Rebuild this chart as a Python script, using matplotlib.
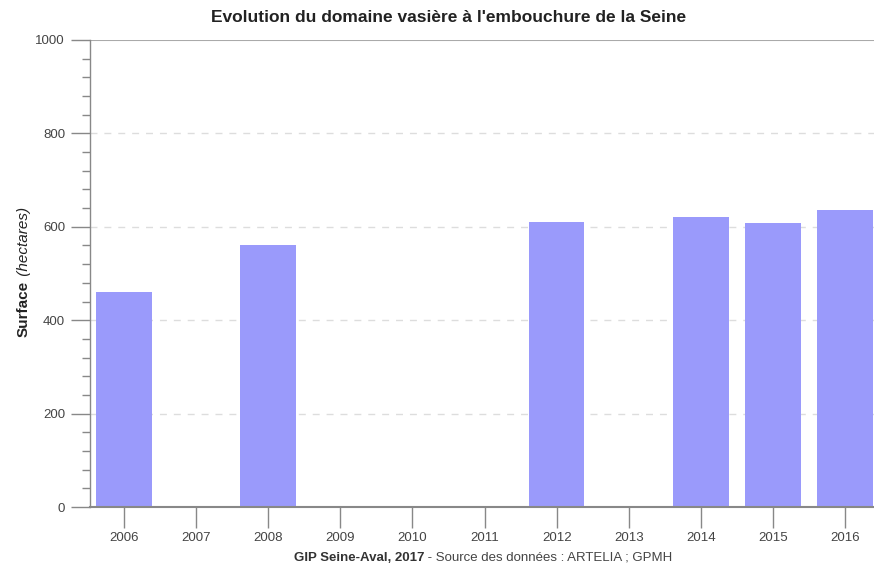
import matplotlib
matplotlib.use("Agg")
import matplotlib.pyplot as plt
from matplotlib.ticker import MultipleLocator

years = ["2006", "2007", "2008", "2009", "2010", "2011", "2012", "2013", "2014", "2015", "2016"]
surface = [460, 0, 560, 0, 0, 0, 610, 0, 620, 608, 635]
title = "Evolution du domaine vasière à l'embouchure de la Seine"
ylabel_bold = "Surface"
ylabel_ital = " (hectares)"
footer_bold = "GIP Seine-Aval, 2017"
footer_rest = " - Source des données : ARTELIA ; GPMH"

plt.rcParams['font.family'] = ['Liberation Sans', 'DejaVu Sans']

W, H = 874, 567
fig = plt.figure(figsize=(W / 100, H / 100), dpi=100)
ax = fig.add_axes([90 / W, 1 - 507 / H, 1 - 90 / W, (507 - 40) / H])

x = list(range(len(years)))
ax.bar(x, surface, width=0.77, color="#9a9afb", zorder=2)

ax.set_xlim(-0.47, 10.40)
ax.set_ylim(0, 1000)
ax.set_xticks(x)
ax.set_xticklabels(years)
ax.yaxis.set_major_locator(MultipleLocator(200))
ax.yaxis.set_minor_locator(MultipleLocator(40))

for v in [200, 400, 600, 800]:
    ax.axhline(v, color="#dddddd", lw=1, ls=(0, (5, 5)), zorder=1)
ax.axhline(1000, color="#aaaaaa", lw=1.5, zorder=1)

for s in ["top", "right"]:
    ax.spines[s].set_visible(False)
ax.spines["left"].set_color("#888888")
ax.spines["bottom"].set_color("#888888")
ax.spines["left"].set_linewidth(1)
ax.spines["bottom"].set_linewidth(1.5)

ax.tick_params(axis="x", direction="out", length=15, width=1, color="#888888",
               labelsize=9.5, labelcolor="#444444", pad=3)
ax.tick_params(axis="y", which="major", direction="out", length=14, width=1, color="#888888",
               labelsize=9.5, labelcolor="#444444", pad=4)
ax.tick_params(axis="y", which="minor", direction="out", length=6, width=1, color="#888888")

fig.text(449 / W, 1 - 18 / H, title, ha="center", va="center", fontsize=12.5,
         fontweight="bold", color="#222222")

# y label: bold + italic parts
fig.canvas.draw()
r = fig.canvas.get_renderer()
yc = 1 - 272 / H
xl = 24 / W
t1 = fig.text(xl, 0, ylabel_bold, rotation=90, ha="center", va="bottom", fontsize=11,
              fontweight="bold", color="#222222")
t2 = fig.text(xl, 0, ylabel_ital, rotation=90, ha="center", va="bottom", fontsize=11,
              fontstyle="italic", color="#222222")
h1 = t1.get_window_extent(r).height / H
h2 = t2.get_window_extent(r).height / H
y0 = yc - (h1 + h2) / 2
t1.set_position((xl, y0))
t2.set_position((xl, y0 + h1))

# footer
fy = 1 - 558 / H
f1 = fig.text(0, fy, footer_bold, ha="left", va="center", fontsize=9.5,
              fontweight="bold", color="#333333")
f2 = fig.text(0, fy, footer_rest, ha="left", va="center", fontsize=9.5, color="#444444")
w1 = f1.get_window_extent(r).width / W
w2 = f2.get_window_extent(r).width / W
fx0 = 483 / W - (w1 + w2) / 2
f1.set_position((fx0, fy))
f2.set_position((fx0 + w1, fy))

fig.savefig("out.png", dpi=100)
